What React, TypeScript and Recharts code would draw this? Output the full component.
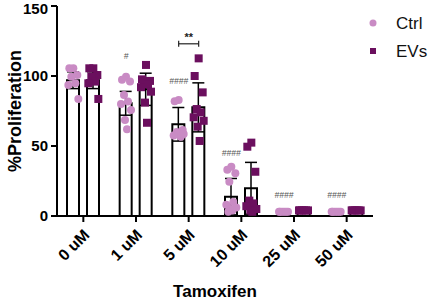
import { ComposedChart, Bar, Scatter, ErrorBar, XAxis, YAxis } from "recharts"

const categories = ["0 uM", "1 uM", "5 uM", "10 uM", "25 uM", "50 uM"]
const yTicks = [0, 50, 100, 150]

const ctrlMean = [97, 80.5, 65.5, 13.8, 3, 3]
const ctrlSd = [6, 8.5, 12, 13, 1, 1]
const evsMean = [97, 90.5, 77.6, 19.8, 3.5, 3.5]
const evsSd = [6, 11.5, 17.5, 18.5, 1, 1]

const ctrlPoints = [
  [105.5, 105.5, 100.7, 99.5, 94.8, 93.6, 83.6],
  [99.5, 97.4, 96, 86.4, 81.7, 80, 75.7, 68.6, 61.9],
  [82.9, 82, 61.4, 60, 56.6, 57.5, 58.5],
  [35.2, 33, 30.5, 24.5, 10, 8, 6, 5, 4, 3],
  [3, 3, 3, 3, 3, 3],
  [3, 3, 3, 3, 3, 3],
]
const evsPoints = [
  [105.5, 105.5, 100.7, 99.5, 96, 94.8, 83.6],
  [107.9, 97.6, 96.5, 95, 94, 92, 88.8, 81, 66.6],
  [112.6, 100, 88.3, 76.4, 74, 70.5, 68, 63.8, 53.6],
  [52.4, 49.5, 31.6, 11, 9, 7, 5, 4, 3],
  [4, 4, 4, 4, 4, 4],
  [4, 4, 4, 4, 4, 4],
]

// significance marks above the Ctrl bars
const sigCats = ["1 uM", "5 uM", "10 uM", "25 uM", "50 uM"]
const sigLabels = ["#", "####", "####", "####", "####"]
const sigLevels = [112, 94, 43, 13, 13]

const PINK = "#c98bc4"
const PURPLE = "#6b0f5e"
const FONT = "'Liberation Sans', Arial, sans-serif"

const chartData = categories.map((cat, i) => ({
  cat,
  ctrl: ctrlMean[i],
  ctrlErr: ctrlSd[i],
  evs: evsMean[i],
  evsErr: evsSd[i],
}))

const ctrlScatter = categories.flatMap((cat, i) => ctrlPoints[i].map((v, j) => ({ cat, v, j })))
const evsScatter = categories.flatMap((cat, i) => evsPoints[i].map((v, j) => ({ cat, v, j })))
const sigData = sigCats.map((cat, i) => ({ cat, v: sigLevels[i], t: sigLabels[i] }))
const bracketData = [{ cat: "5 uM", v: 123, t: "**" }]

const spread = [0, -4, 4, -2, 2, -5, 5, -1, 1, -3, 3]
const SIDE = 10

const CtrlDot = (props: any) => {
  const { cx, cy, payload } = props
  if (cx == null || cy == null) return null
  return <circle cx={cx - SIDE + spread[payload.j % spread.length]} cy={cy} r={4} fill={PINK} />
}

const EvsDot = (props: any) => {
  const { cx, cy, payload } = props
  if (cx == null || cy == null) return null
  return <rect x={cx + SIDE + spread[payload.j % spread.length] - 4} y={cy - 4} width={8} height={8} fill={PURPLE} />
}

const SigMark = (props: any) => {
  const { cx, cy, payload } = props
  if (cx == null || cy == null) return null
  return (
    <text x={cx - SIDE} y={cy} textAnchor="middle" fontSize={8.5} fontStyle="italic" fill="#555" fontFamily={FONT}>
      {payload.t}
    </text>
  )
}

const Bracket = (props: any) => {
  const { cx, cy, payload } = props
  if (cx == null || cy == null) return null
  const x1 = cx - SIDE
  const x2 = cx + SIDE
  return (
    <g>
      <line x1={x1} y1={cy} x2={x2} y2={cy} stroke="#222" strokeWidth={1.2} />
      <line x1={x1} y1={cy - 3} x2={x1} y2={cy + 3} stroke="#222" strokeWidth={1.2} />
      <line x1={x2} y1={cy - 3} x2={x2} y2={cy + 3} stroke="#222" strokeWidth={1.2} />
      <text x={cx} y={cy - 3} textAnchor="middle" fontSize={11} fontWeight="bold" fill="#222" fontFamily={FONT}>
        {payload.t}
      </text>
    </g>
  )
}

const XTick = (props: any) => {
  const { x, y, payload } = props
  return (
    <g transform={`translate(${x},${y})`}>
      <text x={-3.5} y={13.5} textAnchor="end" transform="rotate(-45)" fontSize={16} fontWeight="bold" fill="#000" fontFamily={FONT}>
        {payload.value}
      </text>
    </g>
  )
}

const YLabel = (props: any) => {
  const { viewBox } = props
  const cy = viewBox.y + viewBox.height / 2
  return (
    <text x={21} y={cy} transform={`rotate(-90, 21, ${cy})`} textAnchor="middle" fontSize={18} fontWeight="bold" fill="#000" fontFamily={FONT}>
      %Proliferation
    </text>
  )
}

const XLabel = (props: any) => {
  const { viewBox } = props
  return (
    <text x={viewBox.x + viewBox.width / 2} y={297} textAnchor="middle" fontSize={17} fontWeight="bold" fill="#000" fontFamily={FONT}>
      Tamoxifen
    </text>
  )
}

const LegendBox = () => (
  <svg width={60} height={50} style={{ position: "absolute", left: 365, top: 10, overflow: "visible" }}>
    <circle cx={8} cy={13} r={3.5} fill={PINK} />
    <text x={31} y={19} fontSize={17} fill="#111" fontFamily={FONT}>Ctrl</text>
    <rect x={5} y={38} width={6} height={6} fill={PURPLE} />
    <text x={31} y={47} fontSize={17} fill="#111" fontFamily={FONT}>EVs</text>
  </svg>
)

export default function App() {
  return (
    <div style={{ position: "relative", width: 429, height: 301, background: "#fff" }}>
      <style>{"body{margin:0}"}</style>
      <ComposedChart
        width={429}
        height={301}
        data={chartData}
        margin={{ top: 6, right: 56, left: 0, bottom: 0 }}
        barSize={12}
        barGap={8}
      >
        <XAxis
          dataKey="cat"
          type="category"
          allowDuplicatedCategory={false}
          height={85}
          stroke="#000"
          axisLine={{ stroke: "#000", strokeWidth: 2 }}
          tickLine={{ stroke: "#000", strokeWidth: 2 }}
          tickSize={6}
          tickMargin={2}
          tick={<XTick />}
          interval={0}
          label={<XLabel />}
        />
        <YAxis
          domain={[0, 150]}
          ticks={yTicks}
          width={57}
          axisLine={{ stroke: "#000", strokeWidth: 2 }}
          tickLine={{ stroke: "#000", strokeWidth: 2 }}
          tickSize={6}
          tickMargin={3}
          tick={{ fontSize: 15, fontWeight: "bold", fill: "#000", fontFamily: FONT }}
          label={<YLabel />}
        />
        <Bar dataKey="ctrl" name="Ctrl" fill="#fff" stroke="#000" strokeWidth={2} isAnimationActive={false}>
          <ErrorBar dataKey="ctrlErr" width={6} stroke="#000" strokeWidth={1.5} />
        </Bar>
        <Bar dataKey="evs" name="EVs" fill="#fff" stroke="#000" strokeWidth={2} isAnimationActive={false}>
          <ErrorBar dataKey="evsErr" width={6} stroke="#000" strokeWidth={1.5} />
        </Bar>
        <Scatter data={ctrlScatter} dataKey="v" shape={<CtrlDot />} legendType="none" isAnimationActive={false} />
        <Scatter data={evsScatter} dataKey="v" shape={<EvsDot />} legendType="none" isAnimationActive={false} />
        <Scatter data={sigData} dataKey="v" shape={<SigMark />} legendType="none" isAnimationActive={false} />
        <Scatter data={bracketData} dataKey="v" shape={<Bracket />} legendType="none" isAnimationActive={false} />
      </ComposedChart>
      <LegendBox />
    </div>
  )
}
